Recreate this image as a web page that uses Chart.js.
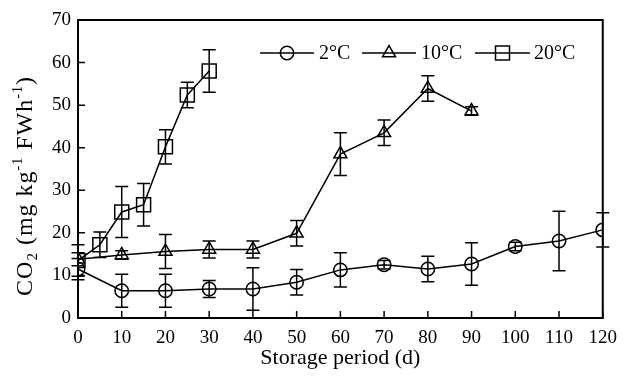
<!DOCTYPE html>
<html>
<head>
<meta charset="utf-8">
<script src="https://cdn.jsdelivr.net/npm/chart.js@4"></script>
<style>
  html, body { margin: 0; padding: 0; background: #fff; }
  #wrap { width: 626px; height: 376px; }
</style>
</head>
<body>
<div id="wrap"><canvas id="chart"></canvas></div>
<script>
// storage days and CO2 production (mg kg-1 FW h-1) with error bar half-widths
const days2 = [0, 10, 20, 30, 40, 50, 60, 70, 80, 90, 100, 110, 120]
const co2At2 = [11.5, 6.4, 6.4, 6.8, 6.8, 8.4, 11.3, 12.5, 11.5, 12.7, 16.8, 18.1, 20.7]
const err2 = [2.5, 3.9, 3.9, 2, 5, 3, 4, 1, 3, 5, 1, 7, 4]

const days10 = [0, 10, 20, 30, 40, 50, 60, 70, 80, 90]
const co2At10 = [13.8, 14.8, 15.6, 16.1, 16.1, 19.9, 38.5, 43.5, 53.9, 48.6]
const err10 = [1.5, 1, 4, 2, 2, 3, 5, 3, 3, 1]

const days20 = [0, 5, 10, 15, 20, 25, 30]
const co2At20 = [13.5, 17.2, 24.9, 26.6, 40.2, 52.4, 58]
const err20 = [3.7, 3, 6, 5, 4, 3, 5]

const seriesNames = ["2°C", "10°C", "20°C"]
const xTicks = [0, 10, 20, 30, 40, 50, 60, 70, 80, 90, 100, 110, 120]
const yTicks = [0, 10, 20, 30, 40, 50, 60, 70]

const errorSets = [err2, err10, err20]
const FONT = "'Liberation Serif', 'Times New Roman', serif"

function toPoints(xs, ys) {
    return xs.map((x, i) => ({ x: x, y: ys[i] }))
}

function drawMarker(ctx, style, x, y) {
    ctx.beginPath()
    if (style === "circle") {
        ctx.arc(x, y, 6.7, 0, Math.PI * 2)
    } else if (style === "triangle") {
        const r = 7.5
        ctx.moveTo(x, y - r)
        ctx.lineTo(x + r * Math.sin(Math.PI * 2 / 3), y + r / 2)
        ctx.lineTo(x - r * Math.sin(Math.PI * 2 / 3), y + r / 2)
        ctx.closePath()
    } else {
        ctx.rect(x - 7, y - 7, 14, 14)
    }
    ctx.stroke()
}

const extras = {
    id: "extras",
    beforeDatasetsDraw(chart) {
        const ctx = chart.ctx
        const xs = chart.scales.x, ys = chart.scales.y
        ctx.save()
        ctx.strokeStyle = "#000"
        ctx.lineWidth = 1.5
        chart.data.datasets.forEach((ds, di) => {
            ds.data.forEach((p, i) => {
                const e = errorSets[di][i]
                const px = xs.getPixelForValue(p.x)
                const top = ys.getPixelForValue(p.y + e)
                const bot = ys.getPixelForValue(p.y - e)
                ctx.beginPath()
                ctx.moveTo(px, top); ctx.lineTo(px, bot)
                ctx.moveTo(px - 6.5, top); ctx.lineTo(px + 6.5, top)
                ctx.moveTo(px - 6.5, bot); ctx.lineTo(px + 6.5, bot)
                ctx.stroke()
            })
        })
        ctx.restore()
    },
    afterDraw(chart) {
        const ctx = chart.ctx
        const a = chart.chartArea
        const xs = chart.scales.x, ys = chart.scales.y
        ctx.save()
        ctx.strokeStyle = "#000"
        ctx.lineWidth = 2
        ctx.strokeRect(a.left, a.top, a.right - a.left, a.bottom - a.top)

        // inward ticks
        ctx.lineWidth = 1.5
        ctx.beginPath()
        xTicks.forEach(v => {
            const px = xs.getPixelForValue(v)
            ctx.moveTo(px, a.bottom); ctx.lineTo(px, a.bottom - 7)
        })
        yTicks.forEach(v => {
            const py = ys.getPixelForValue(v)
            ctx.moveTo(a.left, py); ctx.lineTo(a.left + 7, py)
        })
        ctx.stroke()

        // legend
        const styles = ["circle", "triangle", "rect"]
        const legendX = [[260, 314, 319], [362, 416, 421], [475, 530, 534]]
        const ly = 53
        ctx.font = "20px " + FONT
        ctx.fillStyle = "#000"
        ctx.textBaseline = "middle"
        ctx.textAlign = "left"
        styles.forEach((s, i) => {
            const [x1, x2, tx] = legendX[i]
            ctx.lineWidth = 1.5
            ctx.beginPath()
            ctx.moveTo(x1, ly); ctx.lineTo(x2, ly)
            ctx.stroke()
            drawMarker(ctx, s, (x1 + x2) / 2, ly)
            ctx.fillText(seriesNames[i], tx, ly + 1)
        })

        // y axis title with sub/superscripts
        const parts = [
            ["CO", 24, 0], ["2", 15, 5], [" (mg kg", 24, 0], ["-1", 14, -10],
            [" FWh", 24, 0], ["-1", 14, -10], [")", 24, 0]
        ]
        ctx.textBaseline = "alphabetic"
        ctx.letterSpacing = "1px"
        let total = 0
        parts.forEach(p => { ctx.font = p[1] + "px " + FONT; total += ctx.measureText(p[0]).width })
        ctx.translate(32, 186)
        ctx.rotate(-Math.PI / 2)
        let cx = -total / 2
        parts.forEach(p => {
            ctx.font = p[1] + "px " + FONT
            ctx.fillText(p[0], cx, p[2])
            cx += ctx.measureText(p[0]).width
        })
        ctx.restore()
    }
}

Chart.defaults.font.family = FONT
Chart.defaults.color = "#000"

new Chart(document.getElementById("chart").getContext("2d"), {
    type: "line",
    data: {
        datasets: [
            { label: seriesNames[0], data: toPoints(days2, co2At2), pointStyle: "circle", pointRadius: 6.7 },
            { label: seriesNames[1], data: toPoints(days10, co2At10), pointStyle: "triangle", pointRadius: 7.5 },
            { label: seriesNames[2], data: toPoints(days20, co2At20), pointStyle: "rect", pointRadius: 9.9 }
        ].map(d => Object.assign(d, {
            borderColor: "#000",
            borderWidth: 1.5,
            backgroundColor: "transparent",
            pointBorderColor: "#000",
            pointBackgroundColor: "transparent",
            pointBorderWidth: 1.5,
            tension: 0
        }))
    },
    options: {
        responsive: true,
        maintainAspectRatio: false,
        animation: false,
        layout: { padding: { left: 0, right: 15, top: 20, bottom: 0 } },
        plugins: { legend: { display: false }, tooltip: { enabled: false } },
        scales: {
            x: {
                type: "linear", min: 0, max: 120,
                grid: { display: false, drawTicks: false },
                border: { display: false },
                ticks: { stepSize: 10, padding: 9, maxRotation: 0, font: { size: 19 } },
                title: { display: true, text: "Storage period (d)", font: { size: 22 }, padding: { top: 0, bottom: 5 } },
                afterFit: s => { s.height = 58 }
            },
            y: {
                min: 0, max: 70,
                grid: { display: false, drawTicks: false },
                border: { display: false },
                ticks: { stepSize: 10, padding: 7, font: { size: 19 } },
                afterFit: s => { s.width = 78 }
            }
        }
    },
    plugins: [extras]
})
</script>
</body>
</html>
